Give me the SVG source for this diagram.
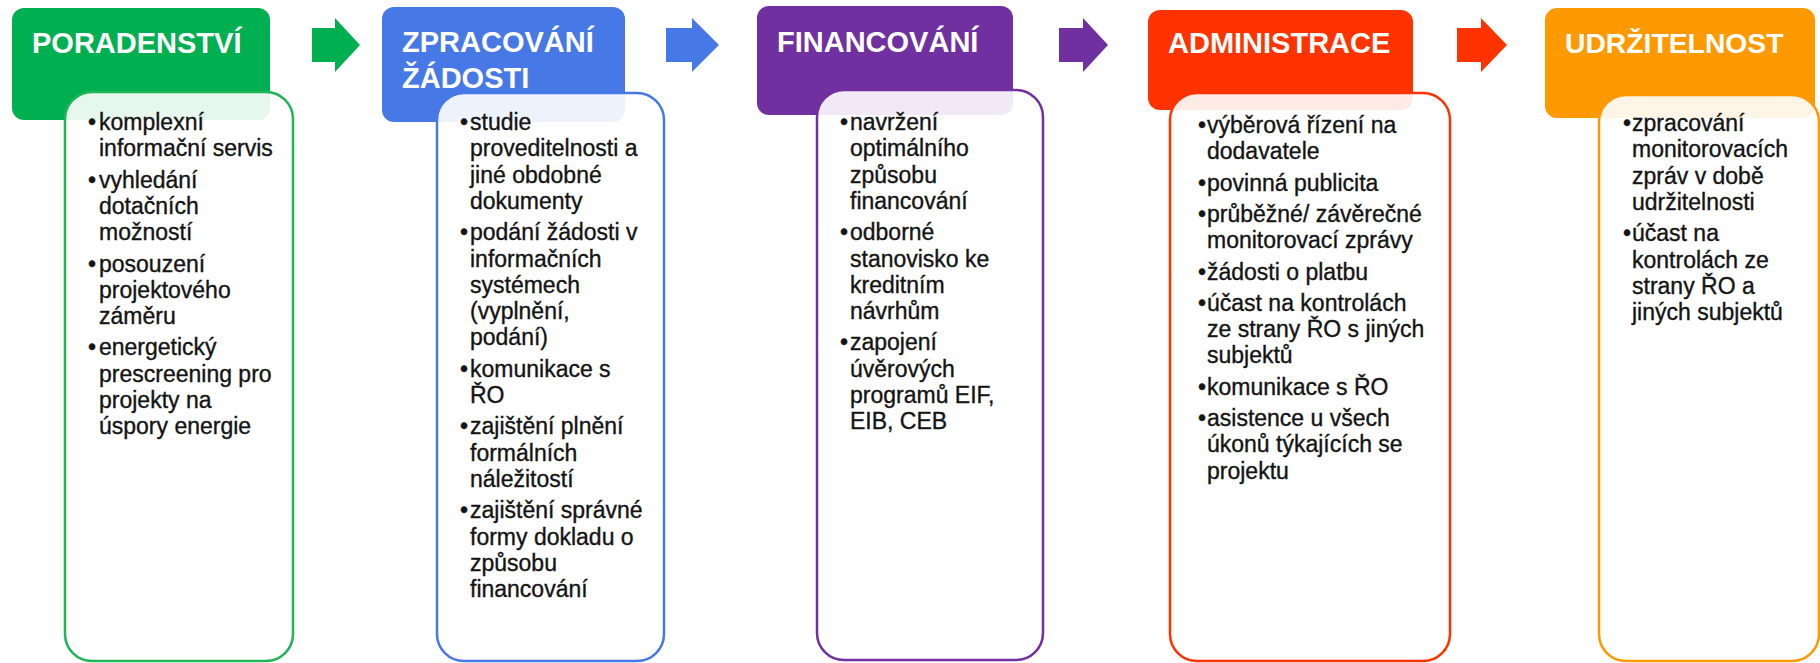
<svg xmlns="http://www.w3.org/2000/svg" width="1820" height="663" viewBox="0 0 1820 663">
<style>
.hd{font-family:"Liberation Sans",Arial,sans-serif;font-weight:bold;font-size:29px;fill:#fff}
.tx{font-family:"Liberation Sans",Arial,sans-serif;font-size:23px;fill:#141414;stroke:#141414;stroke-width:0.35px}
.card{fill:#fff;fill-opacity:0.9;stroke-width:2.5}
</style>
<rect width="1820" height="663" fill="#fff"/>
<g id="connectors">
<path d="M312,28H335V18L360,45L335,72V62H312Z" fill="#00B050"/>
<path d="M666,28H692V18L719,45L692,72V62H666Z" fill="#4679E6"/>
<path d="M1059,28H1083V18L1108,45L1083,72V62H1059Z" fill="#7030A0"/>
<path d="M1457,28H1481V18L1507,45L1481,72V62H1457Z" fill="#FF3300"/>
</g>
<g id="poradenstvi">
<rect x="12" y="8" width="258" height="112" rx="12" fill="#00B050"/>
<text class="hd" x="32" y="53">PORADENSTVÍ</text>
<rect class="card" x="65" y="92" width="228" height="569" rx="27" stroke="#1DB556"/>
<text class="tx" y="130"><tspan x="88">•</tspan><tspan x="99">komplexní</tspan><tspan x="99" dy="26.3">informační servis</tspan></text>
<text class="tx" y="187.6"><tspan x="88">•</tspan><tspan x="99">vyhledání</tspan><tspan x="99" dy="26.3">dotačních</tspan><tspan x="99" dy="26.3">možností</tspan></text>
<text class="tx" y="271.5"><tspan x="88">•</tspan><tspan x="99">posouzení</tspan><tspan x="99" dy="26.3">projektového</tspan><tspan x="99" dy="26.3">záměru</tspan></text>
<text class="tx" y="355.4"><tspan x="88">•</tspan><tspan x="99">energetický</tspan><tspan x="99" dy="26.3">prescreening pro</tspan><tspan x="99" dy="26.3">projekty na</tspan><tspan x="99" dy="26.3">úspory energie</tspan></text>
</g>
<g id="zpracovani">
<rect x="382" y="7" width="243" height="115" rx="12" fill="#4679E6"/>
<text class="hd" x="402" y="52">ZPRACOVÁNÍ</text>
<text class="hd" x="402" y="88">ŽÁDOSTI</text>
<rect class="card" x="437" y="93" width="227" height="568" rx="27" stroke="#4679E6"/>
<text class="tx" y="130"><tspan x="460">•</tspan><tspan x="470">studie</tspan><tspan x="470" dy="26.3">proveditelnosti a</tspan><tspan x="470" dy="26.3">jiné obdobné</tspan><tspan x="470" dy="26.3">dokumenty</tspan></text>
<text class="tx" y="240.2"><tspan x="460">•</tspan><tspan x="470">podání žádosti v</tspan><tspan x="470" dy="26.3">informačních</tspan><tspan x="470" dy="26.3">systémech</tspan><tspan x="470" dy="26.3">(vyplnění,</tspan><tspan x="470" dy="26.3">podání)</tspan></text>
<text class="tx" y="376.7"><tspan x="460">•</tspan><tspan x="470">komunikace s</tspan><tspan x="470" dy="26.3">ŘO</tspan></text>
<text class="tx" y="434.3"><tspan x="460">•</tspan><tspan x="470">zajištění plnění</tspan><tspan x="470" dy="26.3">formálních</tspan><tspan x="470" dy="26.3">náležitostí</tspan></text>
<text class="tx" y="518.2"><tspan x="460">•</tspan><tspan x="470">zajištění správné</tspan><tspan x="470" dy="26.3">formy dokladu o</tspan><tspan x="470" dy="26.3">způsobu</tspan><tspan x="470" dy="26.3">financování</tspan></text>
</g>
<g id="financovani">
<rect x="757" y="6" width="256" height="109" rx="12" fill="#7030A0"/>
<text class="hd" x="777" y="52">FINANCOVÁNÍ</text>
<rect class="card" x="817" y="90" width="226" height="570" rx="27" stroke="#7030A0"/>
<text class="tx" y="130"><tspan x="840">•</tspan><tspan x="850">navržení</tspan><tspan x="850" dy="26.3">optimálního</tspan><tspan x="850" dy="26.3">způsobu</tspan><tspan x="850" dy="26.3">financování</tspan></text>
<text class="tx" y="240.2"><tspan x="840">•</tspan><tspan x="850">odborné</tspan><tspan x="850" dy="26.3">stanovisko ke</tspan><tspan x="850" dy="26.3">kreditním</tspan><tspan x="850" dy="26.3">návrhům</tspan></text>
<text class="tx" y="350.4"><tspan x="840">•</tspan><tspan x="850">zapojení</tspan><tspan x="850" dy="26.3">úvěrových</tspan><tspan x="850" dy="26.3">programů EIF,</tspan><tspan x="850" dy="26.3">EIB, CEB</tspan></text>
</g>
<g id="administrace">
<rect x="1148" y="10" width="265" height="100" rx="12" fill="#FF3300"/>
<text class="hd" x="1168" y="53">ADMINISTRACE</text>
<rect class="card" x="1170" y="93" width="280" height="568" rx="27" stroke="#FF3300"/>
<text class="tx" y="133"><tspan x="1198">•</tspan><tspan x="1207">výběrová řízení na</tspan><tspan x="1207" dy="26.3">dodavatele</tspan></text>
<text class="tx" y="190.6"><tspan x="1198">•</tspan><tspan x="1207">povinná publicita</tspan></text>
<text class="tx" y="221.9"><tspan x="1198">•</tspan><tspan x="1207">průběžné/ závěrečné</tspan><tspan x="1207" dy="26.3">monitorovací zprávy</tspan></text>
<text class="tx" y="279.5"><tspan x="1198">•</tspan><tspan x="1207">žádosti o platbu</tspan></text>
<text class="tx" y="310.8"><tspan x="1198">•</tspan><tspan x="1207">účast na kontrolách</tspan><tspan x="1207" dy="26.3">ze strany ŘO s jiných</tspan><tspan x="1207" dy="26.3">subjektů</tspan></text>
<text class="tx" y="394.7"><tspan x="1198">•</tspan><tspan x="1207">komunikace s ŘO</tspan></text>
<text class="tx" y="426"><tspan x="1198">•</tspan><tspan x="1207">asistence u všech</tspan><tspan x="1207" dy="26.3">úkonů týkajících se</tspan><tspan x="1207" dy="26.3">projektu</tspan></text>
</g>
<g id="udrzitelnost">
<rect x="1545" y="8" width="270" height="110" rx="12" fill="#FF9900"/>
<text class="hd" x="1565" y="53" style="font-size:28.3px">UDRŽITELNOST</text>
<rect class="card" x="1599" y="95" width="220" height="566" rx="27" stroke="#FF9900"/>
<text class="tx" y="131"><tspan x="1623">•</tspan><tspan x="1632">zpracování</tspan><tspan x="1632" dy="26.3">monitorovacích</tspan><tspan x="1632" dy="26.3">zpráv v době</tspan><tspan x="1632" dy="26.3">udržitelnosti</tspan></text>
<text class="tx" y="241.2"><tspan x="1623">•</tspan><tspan x="1632">účast na</tspan><tspan x="1632" dy="26.3">kontrolách ze</tspan><tspan x="1632" dy="26.3">strany ŘO a</tspan><tspan x="1632" dy="26.3">jiných subjektů</tspan></text>
</g>
</svg>
